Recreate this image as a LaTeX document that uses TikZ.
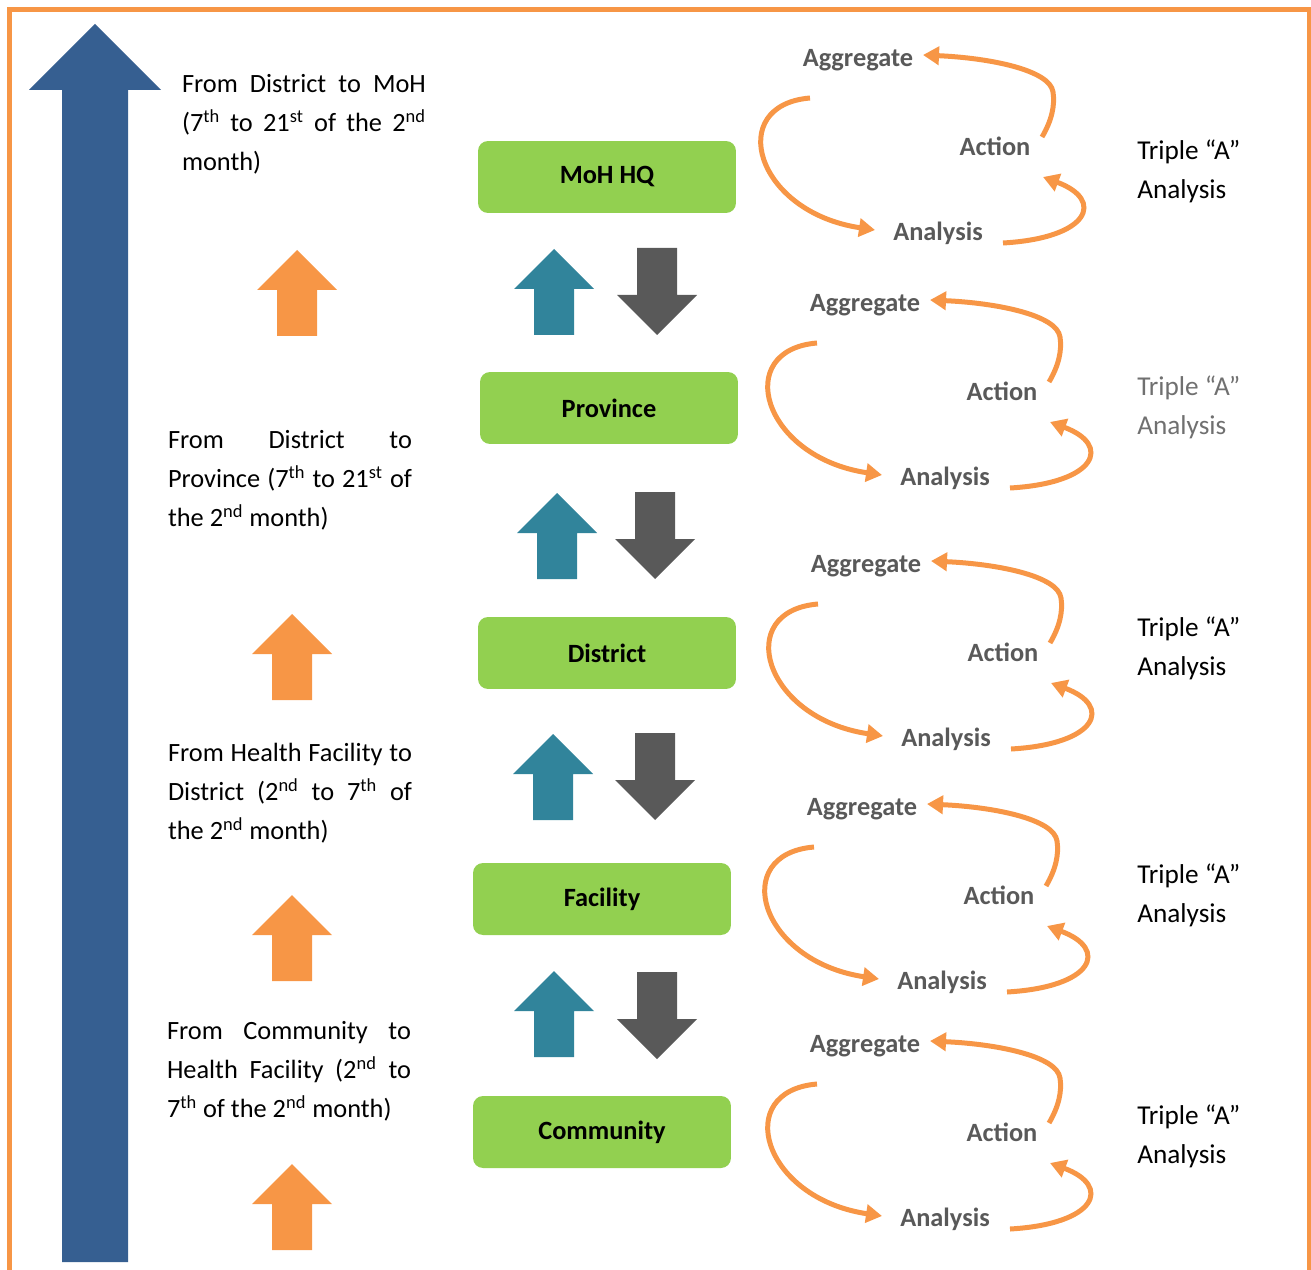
\documentclass[tikz,border=0pt]{standalone}
\usepackage{fontspec}
\setmainfont{Carlito}
\usetikzlibrary{arrows.meta}
\definecolor{frame_orange}{HTML}{F79646}
\definecolor{level_green}{HTML}{92D050}
\definecolor{flow_blue}{HTML}{365F91}
\definecolor{up_teal}{HTML}{31849B}
\definecolor{down_gray}{HTML}{595959}
\definecolor{note_gray}{HTML}{707070}

\begin{document}
\begin{tikzpicture}[
    x=0.02cm, y=-0.02cm,
    font=\fontsize{14.8}{22.1}\selectfont,
    level/.style={
        fill=level_green,
        rounded corners=0.2cm,
        minimum width=5.16cm,
        minimum height=1.44cm,
        font=\fontsize{15}{22.1}\selectfont\bfseries
    },
    step_label/.style={text=down_gray, inner sep=0pt, font=\fontsize{15}{22.1}\selectfont\bfseries},
    note/.style={align=left, anchor=west, inner sep=0pt, font=\fontsize{15.5}{0.78cm}\selectfont},
    period/.style={text width=4.88cm, align=justify, inner sep=0pt, font=\fontsize{15}{0.78cm}\selectfont},
    cycle_arrow/.style={draw=frame_orange, line width=0.1cm, -{Triangle[length=0.32cm, width=0.36cm]}},
    pics/up_block/.style={code={
        \fill[#1] (0,0) -- (40,40) -- (20,40) -- (20,86) -- (-20,86) -- (-20,40) -- (-40,40) -- cycle;}},
    pics/down_block/.style={code={
        \fill[#1] (0,0) -- (40,-40) -- (20,-40) -- (20,-87) -- (-20,-87) -- (-20,-40) -- (-40,-40) -- cycle;}}
]
\useasboundingbox (0,0) rectangle (1311,1270);

% frame, open at the bottom
\draw[frame_orange, line width=0.1cm] (9.5,1280) -- (9.5,10) -- (1309.5,10) -- (1309.5,1280);

% reporting direction
\fill[flow_blue] (95,24) -- (161,90) -- (128,90) -- (128,1262) -- (62,1262) -- (62,90) -- (29,90) -- cycle;

% levels
\node[level] (moh) at (607,177) {MoH HQ};
\node[level] (prov) at (609,408) {Province};
\node[level] (dist) at (607,653) {District};
\node[level] (fac) at (602,899) {Facility};
\node[level] (comm) at (602,1132) {Community};

% up / down between levels
\pic at (554,249) {up_block=up_teal};
\pic at (657,335) {down_block=down_gray};
\pic at (557,493) {up_block=up_teal};
\pic at (655,579) {down_block=down_gray};
\pic at (553,734) {up_block=up_teal};
\pic at (655,820) {down_block=down_gray};
\pic at (554,971) {up_block=up_teal};
\pic at (657,1059) {down_block=down_gray};

% timelines
\pic at (297,250) {up_block=frame_orange};
\pic at (292,614) {up_block=frame_orange};
\pic at (292,895) {up_block=frame_orange};
\pic at (292,1164) {up_block=frame_orange};

\node[period] (t_moh) at (304,124) {From District to MoH\linebreak (7\textsuperscript{th} to 21\textsuperscript{st} of the 2\textsuperscript{nd}\linebreak month)};
\node[period] (t_prov) at (290,480) {From District to\linebreak Province (7\textsuperscript{th} to 21\textsuperscript{st} of\linebreak the 2\textsuperscript{nd} month)};
\node[period] (t_dist) at (290,793) {From Health Facility to\linebreak District (2\textsuperscript{nd} to 7\textsuperscript{th} of\linebreak the 2\textsuperscript{nd} month)};
\node[period] (t_fac) at (289,1071) {From Community to\linebreak Health Facility (2\textsuperscript{nd} to\linebreak 7\textsuperscript{th} of the 2\textsuperscript{nd} month)};

% triple A cycles
\foreach \i/\dx/\dy in {1/0/0, 2/7/245, 3/8/506, 4/4/749, 5/7/986} {
    \begin{scope}[shift={(\dx,\dy)}]
        \node[step_label] (agg\i) at (858,60) {Aggregate};
        \node[step_label] (act\i) at (995,146) {Action};
        \node[step_label] (ana\i) at (938,233) {Analysis};
        \draw[cycle_arrow] (810,98) .. controls (725,105) and (755,212) .. (875,230);
        \draw[cycle_arrow] (1042,137) .. controls (1052,120) and (1055,105) .. (1053,92)
            .. controls (1050,70) and (990,58) .. (923,55);
        \draw[cycle_arrow] (1003,243) .. controls (1090,238) and (1105,200) .. (1043,177);
    \end{scope}
}

\node[note] (n1) at (1137,171.5) {Triple “A”\\Analysis};
\node[note, text=note_gray] (n2) at (1137,407.5) {Triple “A”\\Analysis};
\node[note] (n3) at (1137,648.5) {Triple “A”\\Analysis};
\node[note] (n4) at (1137,895.5) {Triple “A”\\Analysis};
\node[note] (n5) at (1137,1136.5) {Triple “A”\\Analysis};

\end{tikzpicture}
\end{document}
